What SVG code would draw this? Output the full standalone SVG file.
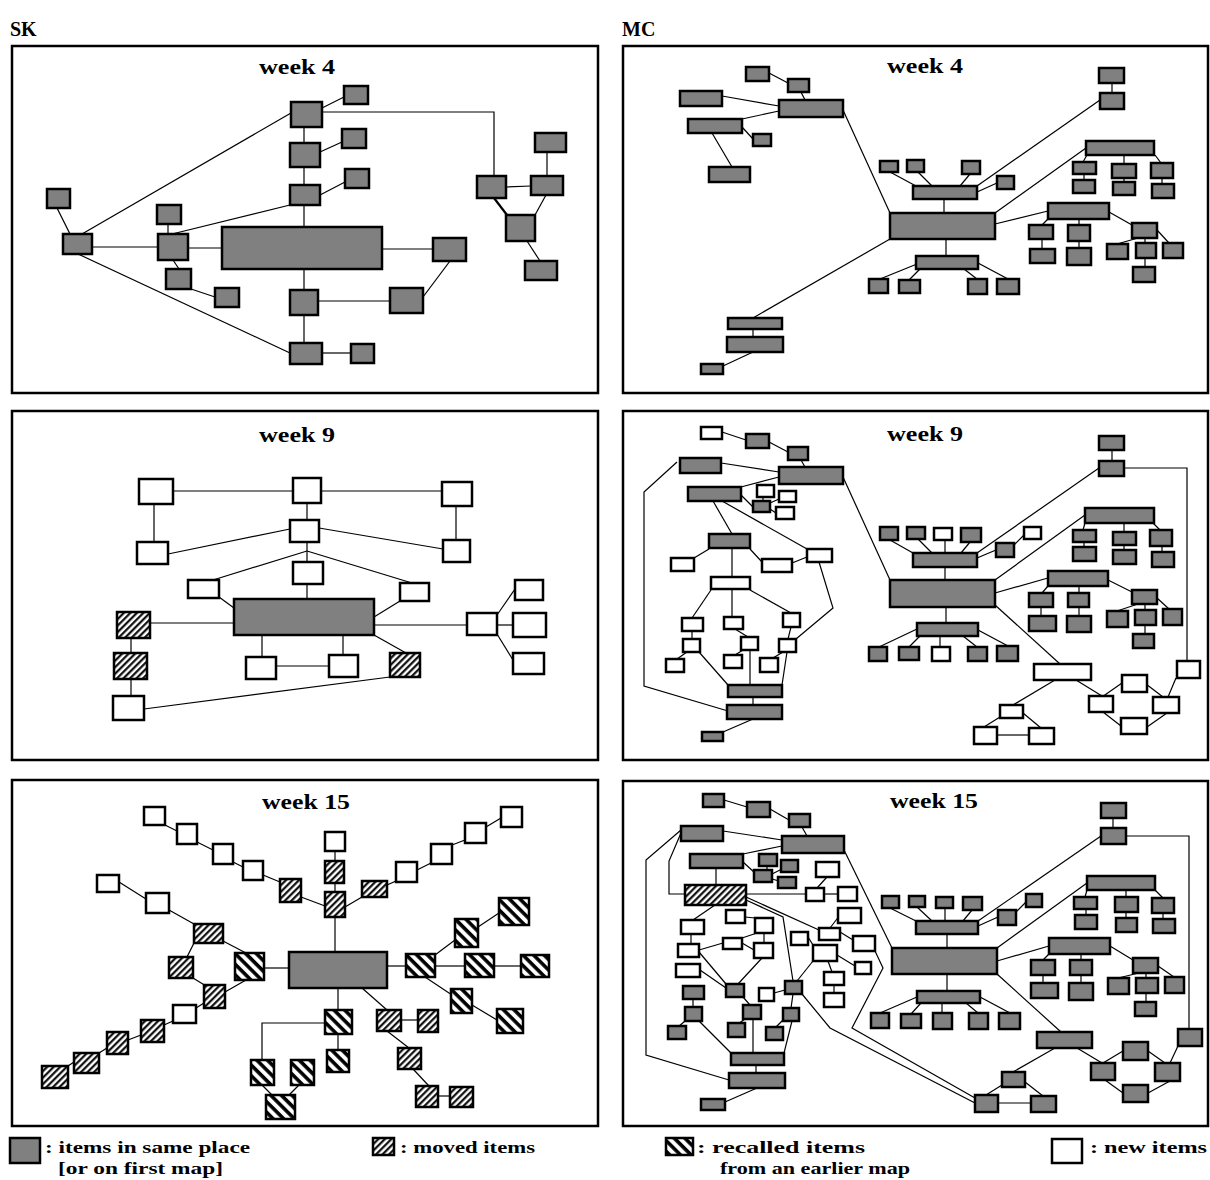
<svg xmlns="http://www.w3.org/2000/svg" width="1210" height="1180" viewBox="0 0 1210 1180">
<defs>
<pattern id="mv" patternUnits="userSpaceOnUse" width="4.6" height="4.6" patternTransform="rotate(45)"><rect width="4.6" height="4.6" fill="#fff"/><line x1="1.2" y1="0" x2="1.2" y2="4.6" stroke="#000" stroke-width="2.1"/></pattern>
<pattern id="rc" patternUnits="userSpaceOnUse" width="7.5" height="7.5" patternTransform="rotate(-45)"><rect width="7.5" height="7.5" fill="#fff"/><line x1="2" y1="0" x2="2" y2="7.5" stroke="#000" stroke-width="3.6"/></pattern>
<style>
.g{fill:#808080;stroke:#000;stroke-width:2.5}
.w{fill:#fff;stroke:#000;stroke-width:2.5}
.m{fill:url(#mv);stroke:#000;stroke-width:2.5}
.r{fill:url(#rc);stroke:#000;stroke-width:2.5}
.f{fill:none;stroke:#000;stroke-width:2.5}
.cn line,.cn polyline{stroke:#000;stroke-width:1.2;fill:none}
.t{font-family:"Liberation Serif","Times New Roman",serif;font-weight:bold;font-size:22px;text-anchor:middle}
.lb{font-family:"Liberation Serif","Times New Roman",serif;font-weight:bold;font-size:20px}
.lg{font-family:"Liberation Serif","Times New Roman",serif;font-weight:bold;font-size:17px}
</style>
</defs>
<rect width="1210" height="1180" fill="#fff"/>
<text class="lb" x="10" y="36">SK</text>
<text class="lb" x="622" y="36">MC</text>

<g id="frames">
<rect class="f" x="12" y="46" width="586" height="347"/>
<rect class="f" x="623" y="46" width="585" height="347"/>
<rect class="f" x="12" y="411" width="586" height="349"/>
<rect class="f" x="623" y="411" width="585" height="349"/>
<rect class="f" x="12" y="780" width="586" height="346"/>
<rect class="f" x="623" y="781" width="585" height="345"/>
</g>

<text class="t" x="297" y="74" textLength="76" lengthAdjust="spacingAndGlyphs">week 4</text>
<text class="t" x="925" y="73" textLength="76" lengthAdjust="spacingAndGlyphs">week 4</text>
<text class="t" x="297" y="442" textLength="76" lengthAdjust="spacingAndGlyphs">week 9</text>
<text class="t" x="925" y="441" textLength="76" lengthAdjust="spacingAndGlyphs">week 9</text>
<text class="t" x="306" y="809" textLength="88" lengthAdjust="spacingAndGlyphs">week 15</text>
<text class="t" x="934" y="808" textLength="88" lengthAdjust="spacingAndGlyphs">week 15</text>

<!-- ================= SK week 4 ================= -->
<g class="cn" id="sk4-connectors">
<line x1="322" y1="108" x2="344" y2="97"/>
<line x1="304" y1="127" x2="304" y2="143"/>
<line x1="320" y1="152" x2="342" y2="142"/>
<line x1="304" y1="167" x2="304" y2="185"/>
<line x1="320" y1="195" x2="345" y2="182"/>
<line x1="304" y1="205" x2="304" y2="227"/>
<line x1="291" y1="113" x2="82" y2="234"/>
<polyline points="322,112 494,112 494,176"/>
<line x1="57" y1="208" x2="70" y2="234"/>
<line x1="92" y1="247" x2="158" y2="247"/>
<line x1="78" y1="254" x2="290" y2="353"/>
<line x1="168" y1="224" x2="168" y2="234"/>
<line x1="172" y1="234" x2="290" y2="205"/>
<line x1="188" y1="248" x2="222" y2="248"/>
<line x1="173" y1="260" x2="179" y2="269"/>
<line x1="191" y1="289" x2="215" y2="297"/>
<line x1="382" y1="249" x2="433" y2="249"/>
<line x1="304" y1="269" x2="304" y2="290"/>
<line x1="318" y1="301" x2="390" y2="301"/>
<line x1="423" y1="297" x2="450" y2="261"/>
<line x1="304" y1="315" x2="304" y2="343"/>
<line x1="322" y1="353" x2="351" y2="353"/>
<line x1="506" y1="187" x2="531" y2="186"/>
<line x1="547" y1="152" x2="547" y2="176"/>
<line x1="494" y1="198" x2="507" y2="215" style="stroke-width:2.2"/>
<line x1="546" y1="195" x2="535" y2="215"/>
<line x1="527" y1="241" x2="540" y2="261"/>
</g>
<g id="sk4-a"><rect class="g" x="291" y="102" width="31" height="25"/></g>
<g id="sk4-a1"><rect class="g" x="344" y="86" width="24" height="18"/></g>
<g id="sk4-b"><rect class="g" x="290" y="143" width="30" height="24"/></g>
<g id="sk4-b1"><rect class="g" x="342" y="129" width="24" height="19"/></g>
<g id="sk4-c"><rect class="g" x="290" y="185" width="30" height="20"/></g>
<g id="sk4-c1"><rect class="g" x="345" y="169" width="24" height="19"/></g>
<g id="sk4-big"><rect class="g" x="222" y="227" width="160" height="42"/></g>
<g id="sk4-d"><rect class="g" x="158" y="234" width="30" height="26"/></g>
<g id="sk4-d1"><rect class="g" x="157" y="205" width="24" height="19"/></g>
<g id="sk4-e"><rect class="g" x="63" y="234" width="29" height="20"/></g>
<g id="sk4-e1"><rect class="g" x="47" y="189" width="23" height="19"/></g>
<g id="sk4-f"><rect class="g" x="166" y="269" width="25" height="20"/></g>
<g id="sk4-f1"><rect class="g" x="215" y="288" width="24" height="19"/></g>
<g id="sk4-g"><rect class="g" x="433" y="238" width="33" height="23"/></g>
<g id="sk4-h"><rect class="g" x="290" y="290" width="28" height="25"/></g>
<g id="sk4-i"><rect class="g" x="390" y="288" width="33" height="25"/></g>
<g id="sk4-j"><rect class="g" x="290" y="343" width="32" height="21"/></g>
<g id="sk4-j1"><rect class="g" x="351" y="344" width="23" height="19"/></g>
<g id="sk4-k"><rect class="g" x="477" y="176" width="29" height="22"/></g>
<g id="sk4-l"><rect class="g" x="531" y="176" width="32" height="19"/></g>
<g id="sk4-l1"><rect class="g" x="535" y="133" width="31" height="19"/></g>
<g id="sk4-m"><rect class="g" x="506" y="215" width="29" height="26"/></g>
<g id="sk4-m1"><rect class="g" x="525" y="261" width="32" height="19"/></g>

<!-- ================= SK week 9 ================= -->
<g class="cn" id="sk9-connectors">
<line x1="173" y1="491" x2="293" y2="491"/>
<line x1="321" y1="491" x2="442" y2="491"/>
<line x1="154" y1="504" x2="154" y2="542"/>
<line x1="456" y1="506" x2="456" y2="540"/>
<line x1="307" y1="503" x2="307" y2="520"/>
<line x1="290" y1="529" x2="168" y2="554"/>
<line x1="319" y1="528" x2="443" y2="549"/>
<line x1="307" y1="542" x2="307" y2="562"/>
<line x1="307" y1="551" x2="213" y2="580"/>
<line x1="307" y1="551" x2="412" y2="583"/>
<line x1="307" y1="584" x2="307" y2="599"/>
<line x1="219" y1="597" x2="234" y2="608"/>
<line x1="400" y1="601" x2="374" y2="617"/>
<line x1="150" y1="623" x2="234" y2="623"/>
<line x1="131" y1="638" x2="131" y2="653"/>
<line x1="131" y1="679" x2="131" y2="696"/>
<line x1="144" y1="709" x2="390" y2="677"/>
<line x1="262" y1="635" x2="262" y2="657"/>
<line x1="343" y1="635" x2="343" y2="655"/>
<line x1="276" y1="666" x2="329" y2="666"/>
<line x1="374" y1="635" x2="406" y2="653"/>
<line x1="374" y1="625" x2="467" y2="625"/>
<line x1="497" y1="615" x2="515" y2="589"/>
<line x1="497" y1="625" x2="513" y2="625"/>
<line x1="497" y1="634" x2="513" y2="660"/>
</g>
<g id="sk9-n1"><rect class="w" x="139" y="479" width="34" height="25"/></g>
<g id="sk9-n2"><rect class="w" x="293" y="478" width="28" height="25"/></g>
<g id="sk9-n3"><rect class="w" x="442" y="482" width="30" height="24"/></g>
<g id="sk9-n1b"><rect class="w" x="137" y="542" width="31" height="22"/></g>
<g id="sk9-n4"><rect class="w" x="290" y="520" width="29" height="22"/></g>
<g id="sk9-n3b"><rect class="w" x="443" y="540" width="27" height="22"/></g>
<g id="sk9-n5"><rect class="w" x="293" y="562" width="30" height="22"/></g>
<g id="sk9-n6"><rect class="w" x="188" y="580" width="31" height="18"/></g>
<g id="sk9-n7"><rect class="w" x="400" y="583" width="29" height="18"/></g>
<g id="sk9-big"><rect class="g" x="234" y="599" width="140" height="36"/></g>
<g id="sk9-h1"><rect class="m" x="117" y="612" width="33" height="26"/></g>
<g id="sk9-h2"><rect class="m" x="114" y="653" width="33" height="26"/></g>
<g id="sk9-w1"><rect class="w" x="113" y="696" width="31" height="24"/></g>
<g id="sk9-w2"><rect class="w" x="246" y="657" width="30" height="22"/></g>
<g id="sk9-w3"><rect class="w" x="329" y="655" width="29" height="22"/></g>
<g id="sk9-h3"><rect class="m" x="390" y="653" width="30" height="24"/></g>
<g id="sk9-r"><rect class="w" x="467" y="613" width="30" height="22"/></g>
<g id="sk9-r1"><rect class="w" x="515" y="580" width="28" height="20"/></g>
<g id="sk9-r2"><rect class="w" x="513" y="613" width="33" height="24"/></g>
<g id="sk9-r3"><rect class="w" x="513" y="653" width="31" height="21"/></g>

<!-- ================= SK week 15 ================= -->
<g class="cn" id="sk15-connectors">
<line x1="165" y1="825" x2="177" y2="831"/>
<line x1="197" y1="842" x2="213" y2="850"/>
<line x1="233" y1="862" x2="243" y2="867"/>
<line x1="263" y1="875" x2="280" y2="882"/>
<line x1="301" y1="897" x2="325" y2="906"/>
<line x1="335" y1="851" x2="335" y2="861"/>
<line x1="335" y1="883" x2="335" y2="892"/>
<line x1="335" y1="917" x2="335" y2="952"/>
<line x1="345" y1="907" x2="362" y2="897"/>
<line x1="387" y1="885" x2="396" y2="881"/>
<line x1="417" y1="870" x2="431" y2="863"/>
<line x1="452" y1="845" x2="465" y2="840"/>
<line x1="486" y1="827" x2="501" y2="818"/>
<line x1="119" y1="882" x2="146" y2="899"/>
<line x1="169" y1="910" x2="194" y2="924"/>
<line x1="194" y1="943" x2="187" y2="957"/>
<line x1="223" y1="941" x2="246" y2="953"/>
<line x1="193" y1="978" x2="206" y2="986"/>
<line x1="246" y1="980" x2="225" y2="992"/>
<line x1="264" y1="968" x2="289" y2="968"/>
<line x1="204" y1="1003" x2="196" y2="1008"/>
<line x1="173" y1="1021" x2="164" y2="1025"/>
<line x1="141" y1="1035" x2="128" y2="1040"/>
<line x1="107" y1="1048" x2="99" y2="1053"/>
<line x1="74" y1="1062" x2="68" y2="1066"/>
<line x1="387" y1="966" x2="406" y2="966"/>
<line x1="435" y1="955" x2="455" y2="940"/>
<line x1="478" y1="927" x2="499" y2="913"/>
<line x1="435" y1="966" x2="465" y2="966"/>
<line x1="494" y1="966" x2="521" y2="966"/>
<line x1="425" y1="977" x2="452" y2="995"/>
<line x1="472" y1="1005" x2="497" y2="1020"/>
<line x1="338" y1="988" x2="338" y2="1010"/>
<line x1="338" y1="1034" x2="338" y2="1050"/>
<polyline points="325,1023 262,1023 262,1060"/>
<line x1="262" y1="1085" x2="272" y2="1095"/>
<line x1="299" y1="1085" x2="289" y2="1095"/>
<line x1="362" y1="988" x2="387" y2="1010"/>
<line x1="401" y1="1020" x2="418" y2="1020"/>
<line x1="387" y1="1031" x2="409" y2="1048"/>
<line x1="413" y1="1069" x2="429" y2="1086"/>
<line x1="438" y1="1096" x2="450" y2="1096"/>
</g>
<g id="sk15-big"><rect class="g" x="289" y="952" width="98" height="36"/></g>
<g id="sk15-u1"><rect class="w" x="144" y="807" width="21" height="18"/></g>
<g id="sk15-u2"><rect class="w" x="177" y="824" width="20" height="20"/></g>
<g id="sk15-u3"><rect class="w" x="213" y="844" width="20" height="20"/></g>
<g id="sk15-u4"><rect class="w" x="243" y="861" width="20" height="19"/></g>
<g id="sk15-u5"><rect class="m" x="280" y="879" width="21" height="23"/></g>
<g id="sk15-v1"><rect class="w" x="325" y="832" width="20" height="19"/></g>
<g id="sk15-v2"><rect class="m" x="325" y="861" width="19" height="22"/></g>
<g id="sk15-c1"><rect class="m" x="325" y="892" width="20" height="25"/></g>
<g id="sk15-rh1"><rect class="m" x="362" y="881" width="25" height="16"/></g>
<g id="sk15-rw1"><rect class="w" x="396" y="862" width="21" height="20"/></g>
<g id="sk15-rw2"><rect class="w" x="431" y="844" width="21" height="20"/></g>
<g id="sk15-rw3"><rect class="w" x="465" y="823" width="21" height="20"/></g>
<g id="sk15-rw4"><rect class="w" x="501" y="807" width="21" height="20"/></g>
<g id="sk15-lw1"><rect class="w" x="97" y="875" width="22" height="17"/></g>
<g id="sk15-lw2"><rect class="w" x="146" y="893" width="23" height="20"/></g>
<g id="sk15-lh1"><rect class="m" x="194" y="924" width="29" height="19"/></g>
<g id="sk15-lh2"><rect class="m" x="169" y="957" width="24" height="21"/></g>
<g id="sk15-lr"><rect class="r" x="235" y="953" width="29" height="27"/></g>
<g id="sk15-lh3"><rect class="m" x="204" y="985" width="21" height="23"/></g>
<g id="sk15-lw3"><rect class="w" x="173" y="1005" width="23" height="18"/></g>
<g id="sk15-lh4"><rect class="m" x="141" y="1020" width="23" height="22"/></g>
<g id="sk15-lh5"><rect class="m" x="107" y="1032" width="21" height="22"/></g>
<g id="sk15-lh6"><rect class="m" x="74" y="1053" width="25" height="20"/></g>
<g id="sk15-lh7"><rect class="m" x="42" y="1066" width="26" height="22"/></g>
<g id="sk15-rr1"><rect class="r" x="406" y="954" width="29" height="23"/></g>
<g id="sk15-rr2"><rect class="r" x="455" y="919" width="23" height="28"/></g>
<g id="sk15-rr3"><rect class="r" x="499" y="898" width="30" height="27"/></g>
<g id="sk15-rr4"><rect class="r" x="465" y="954" width="29" height="23"/></g>
<g id="sk15-rr5"><rect class="r" x="521" y="955" width="28" height="22"/></g>
<g id="sk15-rr6"><rect class="r" x="451" y="989" width="21" height="24"/></g>
<g id="sk15-rr7"><rect class="r" x="497" y="1009" width="26" height="24"/></g>
<g id="sk15-br1"><rect class="r" x="325" y="1010" width="27" height="24"/></g>
<g id="sk15-br2"><rect class="r" x="327" y="1050" width="22" height="22"/></g>
<g id="sk15-br3"><rect class="r" x="251" y="1060" width="23" height="25"/></g>
<g id="sk15-br4"><rect class="r" x="291" y="1060" width="23" height="25"/></g>
<g id="sk15-br5"><rect class="r" x="266" y="1095" width="29" height="24"/></g>
<g id="sk15-bh1"><rect class="m" x="377" y="1010" width="24" height="21"/></g>
<g id="sk15-bh2"><rect class="m" x="418" y="1010" width="20" height="22"/></g>
<g id="sk15-bh3"><rect class="m" x="398" y="1048" width="23" height="21"/></g>
<g id="sk15-bh4"><rect class="m" x="416" y="1086" width="22" height="21"/></g>
<g id="sk15-bh5"><rect class="m" x="450" y="1087" width="23" height="20"/></g>

<!-- ================= MC week 4 ================= -->
<g class="cn" id="mc4-connectors">
<line x1="769" y1="73" x2="788" y2="83"/>
<line x1="801" y1="92" x2="805" y2="100"/>
<line x1="722" y1="96" x2="779" y2="106"/>
<line x1="742" y1="119" x2="779" y2="111"/>
<line x1="742" y1="127" x2="753" y2="139"/>
<line x1="712" y1="133" x2="732" y2="167"/>
<line x1="843" y1="110" x2="890" y2="213"/>
<line x1="890" y1="239" x2="753" y2="318"/>
<line x1="753" y1="329" x2="753" y2="337"/>
<line x1="753" y1="352" x2="723" y2="366"/>
<line x1="1112" y1="83" x2="1112" y2="93"/>
<line x1="1100" y1="100" x2="977" y2="186"/>
<line x1="890" y1="172" x2="916" y2="186"/>
<line x1="918" y1="172" x2="932" y2="186"/>
<line x1="970" y1="174" x2="960" y2="186"/>
<line x1="997" y1="183" x2="977" y2="192"/>
<line x1="944" y1="199" x2="944" y2="213"/>
<line x1="946" y1="239" x2="946" y2="256"/>
<line x1="880" y1="279" x2="917" y2="264"/>
<line x1="909" y1="280" x2="920" y2="269"/>
<line x1="977" y1="279" x2="964" y2="269"/>
<line x1="1008" y1="279" x2="978" y2="263"/>
<line x1="995" y1="213" x2="1086" y2="148"/>
<line x1="1087" y1="155" x2="1083" y2="162"/>
<line x1="1124" y1="155" x2="1124" y2="164"/>
<line x1="1155" y1="155" x2="1161" y2="163"/>
<line x1="1084" y1="174" x2="1084" y2="180"/>
<line x1="1124" y1="178" x2="1124" y2="182"/>
<line x1="1162" y1="178" x2="1162" y2="184"/>
<line x1="995" y1="224" x2="1048" y2="211"/>
<line x1="1048" y1="219" x2="1042" y2="225"/>
<line x1="1079" y1="219" x2="1079" y2="225"/>
<line x1="1042" y1="239" x2="1042" y2="249"/>
<line x1="1079" y1="241" x2="1079" y2="248"/>
<line x1="1109" y1="212" x2="1132" y2="225"/>
<line x1="1138" y1="238" x2="1117" y2="244"/>
<line x1="1145" y1="238" x2="1145" y2="243"/>
<line x1="1157" y1="230" x2="1169" y2="243"/>
<line x1="1145" y1="258" x2="1145" y2="267"/>
</g>
<g id="mc4-a1"><rect class="g" x="746" y="67" width="23" height="14"/></g>
<g id="mc4-a2"><rect class="g" x="788" y="79" width="21" height="13"/></g>
<g id="mc4-a3"><rect class="g" x="680" y="91" width="42" height="15"/></g>
<g id="mc4-a4"><rect class="g" x="779" y="100" width="64" height="17"/></g>
<g id="mc4-a5"><rect class="g" x="688" y="119" width="54" height="14"/></g>
<g id="mc4-a6"><rect class="g" x="753" y="134" width="18" height="12"/></g>
<g id="mc4-a7"><rect class="g" x="709" y="167" width="41" height="15"/></g>
<g id="mc4-b1"><rect class="g" x="728" y="318" width="54" height="11"/></g>
<g id="mc4-b2"><rect class="g" x="727" y="337" width="56" height="15"/></g>
<g id="mc4-b3"><rect class="g" x="701" y="364" width="22" height="10"/></g>
<g id="mc4-c1"><rect class="g" x="1099" y="68" width="25" height="15"/></g>
<g id="mc4-c2"><rect class="g" x="1100" y="93" width="24" height="16"/></g>
<g id="mc4-d"><rect class="g" x="913" y="186" width="64" height="13"/></g>
<g id="mc4-e1"><rect class="g" x="880" y="161" width="18" height="11"/></g>
<g id="mc4-e2"><rect class="g" x="907" y="160" width="17" height="12"/></g>
<g id="mc4-e3"><rect class="g" x="962" y="161" width="18" height="13"/></g>
<g id="mc4-e4"><rect class="g" x="997" y="176" width="17" height="13"/></g>
<g id="mc4-big"><rect class="g" x="890" y="213" width="105" height="26"/></g>
<g id="mc4-f"><rect class="g" x="916" y="256" width="62" height="13"/></g>
<g id="mc4-f1"><rect class="g" x="869" y="279" width="19" height="14"/></g>
<g id="mc4-f2"><rect class="g" x="899" y="280" width="21" height="13"/></g>
<g id="mc4-f3"><rect class="g" x="968" y="279" width="19" height="15"/></g>
<g id="mc4-f4"><rect class="g" x="997" y="279" width="22" height="15"/></g>
<g id="mc4-g"><rect class="g" x="1086" y="141" width="68" height="14"/></g>
<g id="mc4-g1"><rect class="g" x="1073" y="162" width="23" height="12"/></g>
<g id="mc4-g1b"><rect class="g" x="1073" y="180" width="22" height="13"/></g>
<g id="mc4-g2"><rect class="g" x="1112" y="164" width="24" height="14"/></g>
<g id="mc4-g2b"><rect class="g" x="1113" y="182" width="22" height="13"/></g>
<g id="mc4-g3"><rect class="g" x="1151" y="163" width="22" height="15"/></g>
<g id="mc4-g3b"><rect class="g" x="1152" y="184" width="22" height="14"/></g>
<g id="mc4-h"><rect class="g" x="1048" y="203" width="61" height="16"/></g>
<g id="mc4-h1"><rect class="g" x="1029" y="225" width="24" height="14"/></g>
<g id="mc4-h1b"><rect class="g" x="1030" y="249" width="25" height="14"/></g>
<g id="mc4-h2"><rect class="g" x="1068" y="225" width="22" height="16"/></g>
<g id="mc4-h2b"><rect class="g" x="1067" y="248" width="24" height="17"/></g>
<g id="mc4-h3"><rect class="g" x="1132" y="223" width="25" height="15"/></g>
<g id="mc4-h3a"><rect class="g" x="1107" y="244" width="21" height="15"/></g>
<g id="mc4-h3b"><rect class="g" x="1136" y="243" width="20" height="15"/></g>
<g id="mc4-h3c"><rect class="g" x="1163" y="243" width="20" height="15"/></g>
<g id="mc4-h3d"><rect class="g" x="1133" y="267" width="22" height="15"/></g>

<!-- ================= MC week 9 ================= -->
<g class="cn" id="mc9-connectors">
<line x1="722" y1="432" x2="746" y2="440"/>
<line x1="769" y1="442" x2="788" y2="452"/>
<line x1="801" y1="460" x2="805" y2="467"/>
<line x1="721" y1="463" x2="779" y2="472"/>
<line x1="741" y1="487" x2="779" y2="477"/>
<line x1="741" y1="495" x2="753" y2="507"/>
<line x1="763" y1="497" x2="763" y2="501"/>
<line x1="770" y1="503" x2="779" y2="499"/>
<line x1="770" y1="509" x2="776" y2="513"/>
<line x1="713" y1="501" x2="732" y2="534"/>
<line x1="722" y1="501" x2="807" y2="549"/>
<polyline points="677,462 644,492 644,686 728,711"/>
<line x1="709" y1="549" x2="694" y2="558"/>
<line x1="732" y1="548" x2="732" y2="577"/>
<line x1="750" y1="549" x2="762" y2="562"/>
<line x1="792" y1="563" x2="807" y2="557"/>
<polyline points="819,562 833,608 796,639"/>
<line x1="711" y1="590" x2="692" y2="618"/>
<line x1="732" y1="589" x2="732" y2="617"/>
<line x1="750" y1="590" x2="791" y2="613"/>
<line x1="692" y1="631" x2="692" y2="639"/>
<line x1="735" y1="629" x2="748" y2="637"/>
<line x1="791" y1="627" x2="788" y2="639"/>
<line x1="687" y1="652" x2="677" y2="659"/>
<line x1="743" y1="650" x2="735" y2="655"/>
<line x1="783" y1="652" x2="773" y2="658"/>
<line x1="699" y1="652" x2="728" y2="685"/>
<line x1="750" y1="650" x2="750" y2="685"/>
<line x1="787" y1="652" x2="782" y2="685"/>
<line x1="753" y1="697" x2="753" y2="705"/>
<line x1="753" y1="719" x2="723" y2="732"/>
<line x1="843" y1="477" x2="890" y2="580"/>
<line x1="1112" y1="450" x2="1112" y2="461"/>
<polyline points="1124,468 1187,468 1187,661"/>
<line x1="1099" y1="468" x2="977" y2="553"/>
<line x1="890" y1="540" x2="913" y2="553"/>
<line x1="918" y1="539" x2="932" y2="553"/>
<line x1="945" y1="540" x2="945" y2="553"/>
<line x1="970" y1="542" x2="961" y2="553"/>
<line x1="977" y1="558" x2="996" y2="550"/>
<line x1="1014" y1="545" x2="1024" y2="535"/>
<line x1="945" y1="567" x2="945" y2="580"/>
<line x1="995" y1="580" x2="1085" y2="515"/>
<line x1="1085" y1="523" x2="1083" y2="530"/>
<line x1="1124" y1="523" x2="1124" y2="532"/>
<line x1="1153" y1="523" x2="1160" y2="530"/>
<line x1="1084" y1="542" x2="1084" y2="547"/>
<line x1="1124" y1="545" x2="1124" y2="550"/>
<line x1="1162" y1="546" x2="1162" y2="552"/>
<line x1="995" y1="593" x2="1048" y2="578"/>
<line x1="1048" y1="586" x2="1042" y2="593"/>
<line x1="1079" y1="586" x2="1079" y2="593"/>
<line x1="1108" y1="580" x2="1132" y2="592"/>
<line x1="1041" y1="607" x2="1041" y2="616"/>
<line x1="1079" y1="607" x2="1079" y2="616"/>
<line x1="1138" y1="604" x2="1117" y2="611"/>
<line x1="1145" y1="604" x2="1145" y2="610"/>
<line x1="1157" y1="598" x2="1169" y2="609"/>
<line x1="1145" y1="625" x2="1145" y2="634"/>
<line x1="946" y1="607" x2="946" y2="623"/>
<line x1="917" y1="629" x2="879" y2="647"/>
<line x1="920" y1="636" x2="909" y2="647"/>
<line x1="940" y1="636" x2="940" y2="647"/>
<line x1="963" y1="636" x2="977" y2="647"/>
<line x1="978" y1="630" x2="1008" y2="646"/>
<line x1="995" y1="605" x2="1060" y2="664"/>
<line x1="1055" y1="680" x2="1013" y2="705"/>
<line x1="1000" y1="717" x2="984" y2="727"/>
<line x1="1023" y1="713" x2="1041" y2="728"/>
<line x1="997" y1="735" x2="1029" y2="735"/>
<line x1="1076" y1="680" x2="1102" y2="696"/>
<line x1="1102" y1="697" x2="1122" y2="683"/>
<line x1="1146" y1="684" x2="1163" y2="697"/>
<line x1="1103" y1="712" x2="1121" y2="726"/>
<line x1="1147" y1="727" x2="1167" y2="713"/>
<line x1="1168" y1="697" x2="1176" y2="678"/>
</g>
<g id="mc9-wt"><rect class="w" x="701" y="427" width="21" height="12"/></g>
<g id="mc9-p1"><rect class="g" x="746" y="434" width="23" height="14"/></g>
<g id="mc9-p2"><rect class="g" x="788" y="447" width="20" height="13"/></g>
<g id="mc9-p3"><rect class="g" x="680" y="458" width="41" height="15"/></g>
<g id="mc9-hubp"><rect class="g" x="779" y="467" width="64" height="17"/></g>
<g id="mc9-p5"><rect class="g" x="688" y="487" width="53" height="14"/></g>
<g id="mc9-q1"><rect class="w" x="757" y="485" width="17" height="12"/></g>
<g id="mc9-q2"><rect class="g" x="753" y="501" width="17" height="11"/></g>
<g id="mc9-q3"><rect class="w" x="779" y="491" width="17" height="11"/></g>
<g id="mc9-q4"><rect class="w" x="776" y="507" width="18" height="12"/></g>
<g id="mc9-r"><rect class="g" x="709" y="534" width="41" height="14"/></g>
<g id="mc9-rl"><rect class="w" x="671" y="558" width="23" height="13"/></g>
<g id="mc9-rr"><rect class="w" x="762" y="559" width="30" height="13"/></g>
<g id="mc9-s"><rect class="w" x="807" y="549" width="25" height="13"/></g>
<g id="mc9-t"><rect class="w" x="711" y="577" width="39" height="12"/></g>
<g id="mc9-t1"><rect class="w" x="682" y="618" width="21" height="13"/></g>
<g id="mc9-t2"><rect class="w" x="724" y="617" width="19" height="12"/></g>
<g id="mc9-t3"><rect class="w" x="783" y="613" width="17" height="14"/></g>
<g id="mc9-t1b"><rect class="w" x="683" y="639" width="17" height="13"/></g>
<g id="mc9-t2b"><rect class="w" x="741" y="637" width="17" height="13"/></g>
<g id="mc9-t3b"><rect class="w" x="779" y="639" width="17" height="13"/></g>
<g id="mc9-t1c"><rect class="w" x="666" y="659" width="18" height="13"/></g>
<g id="mc9-t2c"><rect class="w" x="724" y="655" width="18" height="13"/></g>
<g id="mc9-t3c"><rect class="w" x="760" y="658" width="18" height="14"/></g>
<g id="mc9-u1"><rect class="g" x="728" y="685" width="54" height="12"/></g>
<g id="mc9-u2"><rect class="g" x="727" y="705" width="55" height="14"/></g>
<g id="mc9-u3"><rect class="g" x="702" y="732" width="21" height="9"/></g>
<g id="mc9-v1"><rect class="g" x="1099" y="436" width="25" height="14"/></g>
<g id="mc9-v2"><rect class="g" x="1099" y="461" width="25" height="15"/></g>
<g id="mc9-hubq"><rect class="g" x="913" y="553" width="64" height="14"/></g>
<g id="mc9-qs1"><rect class="g" x="880" y="527" width="18" height="13"/></g>
<g id="mc9-qs2"><rect class="g" x="907" y="527" width="18" height="12"/></g>
<g id="mc9-qs3"><rect class="w" x="934" y="528" width="18" height="12"/></g>
<g id="mc9-qs4"><rect class="g" x="961" y="528" width="20" height="14"/></g>
<g id="mc9-qr1"><rect class="g" x="996" y="543" width="18" height="14"/></g>
<g id="mc9-qr2"><rect class="w" x="1024" y="527" width="17" height="12"/></g>
<g id="mc9-big"><rect class="g" x="890" y="580" width="105" height="27"/></g>
<g id="mc9-hubr"><rect class="g" x="1085" y="508" width="69" height="15"/></g>
<g id="mc9-rc1"><rect class="g" x="1073" y="530" width="23" height="12"/></g>
<g id="mc9-rc1b"><rect class="g" x="1073" y="547" width="23" height="14"/></g>
<g id="mc9-rc2"><rect class="g" x="1113" y="532" width="23" height="13"/></g>
<g id="mc9-rc2b"><rect class="g" x="1113" y="550" width="23" height="14"/></g>
<g id="mc9-rc3"><rect class="g" x="1150" y="530" width="22" height="16"/></g>
<g id="mc9-rc3b"><rect class="g" x="1152" y="552" width="22" height="15"/></g>
<g id="mc9-hubs"><rect class="g" x="1048" y="571" width="60" height="15"/></g>
<g id="mc9-s1"><rect class="g" x="1029" y="593" width="24" height="14"/></g>
<g id="mc9-s1b"><rect class="g" x="1029" y="616" width="27" height="15"/></g>
<g id="mc9-s2"><rect class="g" x="1068" y="593" width="21" height="14"/></g>
<g id="mc9-s2b"><rect class="g" x="1067" y="616" width="24" height="16"/></g>
<g id="mc9-s3"><rect class="g" x="1132" y="590" width="25" height="14"/></g>
<g id="mc9-s3a"><rect class="g" x="1107" y="611" width="21" height="16"/></g>
<g id="mc9-s3b"><rect class="g" x="1135" y="610" width="21" height="15"/></g>
<g id="mc9-s3c"><rect class="g" x="1163" y="609" width="19" height="16"/></g>
<g id="mc9-s3d"><rect class="g" x="1133" y="634" width="21" height="14"/></g>
<g id="mc9-hubt"><rect class="g" x="917" y="623" width="61" height="13"/></g>
<g id="mc9-t1x"><rect class="g" x="869" y="647" width="18" height="14"/></g>
<g id="mc9-t2x"><rect class="g" x="899" y="647" width="20" height="13"/></g>
<g id="mc9-t3x"><rect class="w" x="932" y="647" width="18" height="14"/></g>
<g id="mc9-t4x"><rect class="g" x="968" y="647" width="19" height="14"/></g>
<g id="mc9-t5x"><rect class="g" x="997" y="646" width="21" height="15"/></g>
<g id="mc9-hubu"><rect class="w" x="1034" y="664" width="57" height="16"/></g>
<g id="mc9-u1x"><rect class="w" x="1000" y="705" width="23" height="13"/></g>
<g id="mc9-ul"><rect class="w" x="974" y="727" width="23" height="17"/></g>
<g id="mc9-ur"><rect class="w" x="1029" y="728" width="25" height="16"/></g>
<g id="mc9-vv1"><rect class="w" x="1089" y="696" width="24" height="16"/></g>
<g id="mc9-vv2"><rect class="w" x="1122" y="675" width="25" height="17"/></g>
<g id="mc9-vv3"><rect class="w" x="1153" y="697" width="26" height="16"/></g>
<g id="mc9-vv4"><rect class="w" x="1121" y="718" width="26" height="16"/></g>
<g id="mc9-vrt"><rect class="w" x="1177" y="661" width="23" height="17"/></g>

<!-- ================= MC week 15 ================= -->
<g class="cn" id="mc15-connectors">
<line x1="724" y1="800" x2="747" y2="807"/>
<line x1="770" y1="809" x2="789" y2="820"/>
<line x1="802" y1="827" x2="807" y2="836"/>
<line x1="723" y1="831" x2="782" y2="840"/>
<line x1="743" y1="854" x2="782" y2="846"/>
<line x1="743" y1="862" x2="755" y2="873"/>
<line x1="767" y1="866" x2="767" y2="870"/>
<line x1="772" y1="874" x2="782" y2="869"/>
<line x1="772" y1="879" x2="779" y2="881"/>
<line x1="716" y1="868" x2="716" y2="885"/>
<polyline points="681,833 669,861 669,894 685,894"/>
<polyline points="681,830 646,860 646,1055 729,1080"/>
<line x1="715" y1="905" x2="693" y2="920"/>
<line x1="746" y1="894" x2="806" y2="894"/>
<line x1="824" y1="894" x2="838" y2="894"/>
<line x1="827" y1="877" x2="817" y2="888"/>
<line x1="746" y1="897" x2="819" y2="930"/>
<polyline points="746,900 783,917 793,981"/>
<line x1="840" y1="915" x2="830" y2="928"/>
<line x1="840" y1="932" x2="853" y2="940"/>
<polyline points="875,951 883,968 852,1028 975,1098"/>
<polyline points="802,994 830,1028 975,1103"/>
<line x1="808" y1="937" x2="813" y2="945"/>
<line x1="837" y1="955" x2="855" y2="966"/>
<line x1="828" y1="961" x2="832" y2="972"/>
<line x1="834" y1="985" x2="834" y2="993"/>
<line x1="813" y1="961" x2="797" y2="981"/>
<line x1="785" y1="990" x2="774" y2="993"/>
<line x1="793" y1="994" x2="791" y2="1008"/>
<line x1="783" y1="1020" x2="775" y2="1028"/>
<line x1="792" y1="1021" x2="784" y2="1053"/>
<line x1="753" y1="1019" x2="753" y2="1053"/>
<line x1="743" y1="997" x2="750" y2="1005"/>
<line x1="745" y1="1019" x2="738" y2="1024"/>
<line x1="693" y1="999" x2="693" y2="1007"/>
<line x1="685" y1="1021" x2="678" y2="1027"/>
<line x1="699" y1="1021" x2="731" y2="1053"/>
<line x1="699" y1="952" x2="726" y2="984"/>
<line x1="700" y1="970" x2="726" y2="988"/>
<line x1="762" y1="958" x2="738" y2="984"/>
<line x1="699" y1="950" x2="723" y2="943"/>
<line x1="742" y1="943" x2="754" y2="950"/>
<line x1="742" y1="938" x2="757" y2="933"/>
<line x1="755" y1="918" x2="745" y2="917"/>
<line x1="764" y1="933" x2="764" y2="943"/>
<line x1="691" y1="934" x2="691" y2="944"/>
<line x1="756" y1="1065" x2="756" y2="1073"/>
<line x1="757" y1="1088" x2="725" y2="1102"/>
<line x1="844" y1="850" x2="892" y2="948"/>
<line x1="1113" y1="818" x2="1113" y2="828"/>
<polyline points="1126,836 1189,836 1189,1029"/>
<line x1="1101" y1="836" x2="978" y2="921"/>
<line x1="890" y1="908" x2="916" y2="921"/>
<line x1="917" y1="907" x2="932" y2="921"/>
<line x1="945" y1="908" x2="945" y2="921"/>
<line x1="972" y1="910" x2="963" y2="921"/>
<line x1="978" y1="926" x2="998" y2="917"/>
<line x1="1016" y1="912" x2="1026" y2="902"/>
<line x1="947" y1="934" x2="947" y2="948"/>
<line x1="997" y1="948" x2="1087" y2="883"/>
<line x1="1087" y1="890" x2="1085" y2="897"/>
<line x1="1126" y1="890" x2="1126" y2="897"/>
<line x1="1155" y1="890" x2="1163" y2="898"/>
<line x1="1086" y1="909" x2="1086" y2="915"/>
<line x1="1126" y1="912" x2="1126" y2="918"/>
<line x1="1163" y1="913" x2="1163" y2="919"/>
<line x1="997" y1="961" x2="1049" y2="946"/>
<line x1="1049" y1="954" x2="1043" y2="960"/>
<line x1="1081" y1="954" x2="1081" y2="960"/>
<line x1="1110" y1="946" x2="1133" y2="960"/>
<line x1="1043" y1="975" x2="1043" y2="983"/>
<line x1="1081" y1="975" x2="1081" y2="983"/>
<line x1="1139" y1="973" x2="1118" y2="978"/>
<line x1="1146" y1="973" x2="1146" y2="978"/>
<line x1="1158" y1="966" x2="1174" y2="977"/>
<line x1="1146" y1="993" x2="1146" y2="1002"/>
<line x1="947" y1="974" x2="947" y2="991"/>
<line x1="917" y1="997" x2="880" y2="1013"/>
<line x1="921" y1="1003" x2="911" y2="1014"/>
<line x1="942" y1="1003" x2="942" y2="1013"/>
<line x1="966" y1="1003" x2="978" y2="1013"/>
<line x1="980" y1="997" x2="1010" y2="1013"/>
<line x1="997" y1="974" x2="1061" y2="1032"/>
<line x1="1055" y1="1048" x2="1013" y2="1072"/>
<line x1="1002" y1="1085" x2="986" y2="1095"/>
<line x1="1025" y1="1082" x2="1043" y2="1096"/>
<line x1="998" y1="1103" x2="1031" y2="1103"/>
<line x1="1077" y1="1048" x2="1102" y2="1063"/>
<line x1="1103" y1="1063" x2="1123" y2="1051"/>
<line x1="1148" y1="1051" x2="1165" y2="1063"/>
<line x1="1105" y1="1080" x2="1123" y2="1093"/>
<line x1="1148" y1="1093" x2="1170" y2="1081"/>
<line x1="1170" y1="1063" x2="1178" y2="1046"/>
</g>
<g id="mc15-x1"><rect class="g" x="703" y="794" width="21" height="13"/></g>
<g id="mc15-x2"><rect class="g" x="747" y="802" width="23" height="15"/></g>
<g id="mc15-x3"><rect class="g" x="789" y="814" width="21" height="13"/></g>
<g id="mc15-x4"><rect class="g" x="681" y="826" width="42" height="15"/></g>
<g id="mc15-hubx"><rect class="g" x="782" y="836" width="62" height="17"/></g>
<g id="mc15-x5"><rect class="g" x="690" y="854" width="53" height="14"/></g>
<g id="mc15-cl1"><rect class="g" x="759" y="854" width="18" height="12"/></g>
<g id="mc15-cl2"><rect class="g" x="781" y="860" width="17" height="12"/></g>
<g id="mc15-cl3"><rect class="g" x="754" y="870" width="18" height="12"/></g>
<g id="mc15-cl4"><rect class="g" x="778" y="877" width="18" height="11"/></g>
<g id="mc15-hat"><rect class="m" x="685" y="885" width="61" height="20"/></g>
<g id="mc15-wt1"><rect class="w" x="816" y="862" width="23" height="15"/></g>
<g id="mc15-wt2"><rect class="w" x="806" y="888" width="18" height="13"/></g>
<g id="mc15-wt3"><rect class="w" x="838" y="887" width="19" height="14"/></g>
<g id="mc15-wt4"><rect class="w" x="838" y="908" width="23" height="15"/></g>
<g id="mc15-ww"><rect class="w" x="819" y="928" width="21" height="12"/></g>
<g id="mc15-wn"><rect class="w" x="853" y="936" width="22" height="15"/></g>
<g id="mc15-wsm"><rect class="w" x="855" y="962" width="16" height="12"/></g>
<g id="mc15-wa"><rect class="w" x="681" y="920" width="23" height="14"/></g>
<g id="mc15-wb"><rect class="w" x="726" y="910" width="19" height="13"/></g>
<g id="mc15-wc"><rect class="w" x="755" y="918" width="18" height="15"/></g>
<g id="mc15-wd"><rect class="w" x="723" y="938" width="19" height="11"/></g>
<g id="mc15-we"><rect class="w" x="678" y="944" width="21" height="13"/></g>
<g id="mc15-wf"><rect class="w" x="754" y="943" width="19" height="15"/></g>
<g id="mc15-wg"><rect class="w" x="676" y="964" width="24" height="13"/></g>
<g id="mc15-wh"><rect class="w" x="791" y="932" width="17" height="13"/></g>
<g id="mc15-wi"><rect class="w" x="813" y="945" width="24" height="16"/></g>
<g id="mc15-wj"><rect class="w" x="824" y="972" width="20" height="13"/></g>
<g id="mc15-wk"><rect class="w" x="824" y="993" width="20" height="14"/></g>
<g id="mc15-wl"><rect class="w" x="759" y="988" width="15" height="13"/></g>
<g id="mc15-ga"><rect class="g" x="683" y="986" width="21" height="13"/></g>
<g id="mc15-gb"><rect class="g" x="685" y="1007" width="17" height="14"/></g>
<g id="mc15-gc"><rect class="g" x="668" y="1026" width="18" height="13"/></g>
<g id="mc15-gd"><rect class="g" x="726" y="984" width="18" height="13"/></g>
<g id="mc15-ge"><rect class="g" x="743" y="1005" width="18" height="14"/></g>
<g id="mc15-gf"><rect class="g" x="728" y="1023" width="17" height="14"/></g>
<g id="mc15-gg"><rect class="g" x="785" y="981" width="17" height="13"/></g>
<g id="mc15-gh"><rect class="g" x="783" y="1008" width="16" height="13"/></g>
<g id="mc15-gi"><rect class="g" x="766" y="1027" width="17" height="13"/></g>
<g id="mc15-u1"><rect class="g" x="731" y="1053" width="53" height="12"/></g>
<g id="mc15-u2"><rect class="g" x="729" y="1073" width="56" height="15"/></g>
<g id="mc15-u3"><rect class="g" x="701" y="1099" width="24" height="11"/></g>
<g id="mc15-y1"><rect class="g" x="1101" y="803" width="25" height="15"/></g>
<g id="mc15-y2"><rect class="g" x="1101" y="828" width="25" height="16"/></g>
<g id="mc15-hubq"><rect class="g" x="916" y="921" width="62" height="13"/></g>
<g id="mc15-qs1"><rect class="g" x="882" y="896" width="17" height="12"/></g>
<g id="mc15-qs2"><rect class="g" x="909" y="896" width="16" height="11"/></g>
<g id="mc15-qs3"><rect class="g" x="936" y="897" width="17" height="11"/></g>
<g id="mc15-qs4"><rect class="g" x="963" y="897" width="19" height="13"/></g>
<g id="mc15-qr1"><rect class="g" x="998" y="910" width="18" height="15"/></g>
<g id="mc15-qr2"><rect class="g" x="1026" y="894" width="16" height="13"/></g>
<g id="mc15-big"><rect class="g" x="892" y="948" width="105" height="26"/></g>
<g id="mc15-hubr"><rect class="g" x="1087" y="876" width="68" height="14"/></g>
<g id="mc15-rc1"><rect class="g" x="1074" y="897" width="23" height="12"/></g>
<g id="mc15-rc1b"><rect class="g" x="1075" y="915" width="22" height="14"/></g>
<g id="mc15-rc2"><rect class="g" x="1115" y="897" width="23" height="15"/></g>
<g id="mc15-rc2b"><rect class="g" x="1116" y="918" width="21" height="14"/></g>
<g id="mc15-rc3"><rect class="g" x="1152" y="898" width="22" height="15"/></g>
<g id="mc15-rc3b"><rect class="g" x="1153" y="919" width="22" height="14"/></g>
<g id="mc15-hubs"><rect class="g" x="1049" y="938" width="61" height="16"/></g>
<g id="mc15-s1"><rect class="g" x="1031" y="960" width="24" height="15"/></g>
<g id="mc15-s1b"><rect class="g" x="1031" y="983" width="27" height="15"/></g>
<g id="mc15-s2"><rect class="g" x="1070" y="960" width="22" height="15"/></g>
<g id="mc15-s2b"><rect class="g" x="1069" y="983" width="24" height="17"/></g>
<g id="mc15-s3"><rect class="g" x="1133" y="958" width="25" height="15"/></g>
<g id="mc15-s3a"><rect class="g" x="1108" y="978" width="21" height="16"/></g>
<g id="mc15-s3b"><rect class="g" x="1136" y="978" width="22" height="15"/></g>
<g id="mc15-s3c"><rect class="g" x="1165" y="977" width="19" height="16"/></g>
<g id="mc15-s3d"><rect class="g" x="1135" y="1002" width="21" height="14"/></g>
<g id="mc15-hubt"><rect class="g" x="917" y="991" width="63" height="12"/></g>
<g id="mc15-t1"><rect class="g" x="871" y="1013" width="18" height="15"/></g>
<g id="mc15-t2"><rect class="g" x="901" y="1014" width="20" height="14"/></g>
<g id="mc15-t3"><rect class="g" x="933" y="1013" width="19" height="16"/></g>
<g id="mc15-t4"><rect class="g" x="969" y="1013" width="19" height="16"/></g>
<g id="mc15-t5"><rect class="g" x="999" y="1013" width="21" height="16"/></g>
<g id="mc15-hubu"><rect class="g" x="1037" y="1032" width="55" height="16"/></g>
<g id="mc15-u1x"><rect class="g" x="1002" y="1072" width="23" height="15"/></g>
<g id="mc15-ul"><rect class="g" x="975" y="1095" width="23" height="17"/></g>
<g id="mc15-ur"><rect class="g" x="1031" y="1096" width="25" height="16"/></g>
<g id="mc15-vv1"><rect class="g" x="1091" y="1063" width="24" height="17"/></g>
<g id="mc15-vv2"><rect class="g" x="1123" y="1042" width="25" height="18"/></g>
<g id="mc15-vv3"><rect class="g" x="1155" y="1063" width="25" height="18"/></g>
<g id="mc15-vv4"><rect class="g" x="1123" y="1085" width="25" height="17"/></g>
<g id="mc15-vrt"><rect class="g" x="1178" y="1029" width="24" height="17"/></g>

<g id="legend">
<rect class="g" x="10" y="1138" width="30" height="25"/>
<text class="lg" x="45" y="1153" textLength="205" lengthAdjust="spacingAndGlyphs">: items in same place</text>
<text class="lg" x="58" y="1174" textLength="165" lengthAdjust="spacingAndGlyphs">[or on first map]</text>
<rect class="m" x="373" y="1138" width="21" height="17"/>
<text class="lg" x="400" y="1153" textLength="135" lengthAdjust="spacingAndGlyphs">: moved items</text>
<rect class="r" x="666" y="1138" width="27" height="17"/>
<text class="lg" x="697" y="1153" textLength="168" lengthAdjust="spacingAndGlyphs">: recalled items</text>
<text class="lg" x="720" y="1174" textLength="190" lengthAdjust="spacingAndGlyphs">from an earlier map</text>
<rect class="w" x="1052" y="1139" width="30" height="24"/>
<text class="lg" x="1090" y="1153" textLength="117" lengthAdjust="spacingAndGlyphs">: new items</text>
</g>
</svg>
